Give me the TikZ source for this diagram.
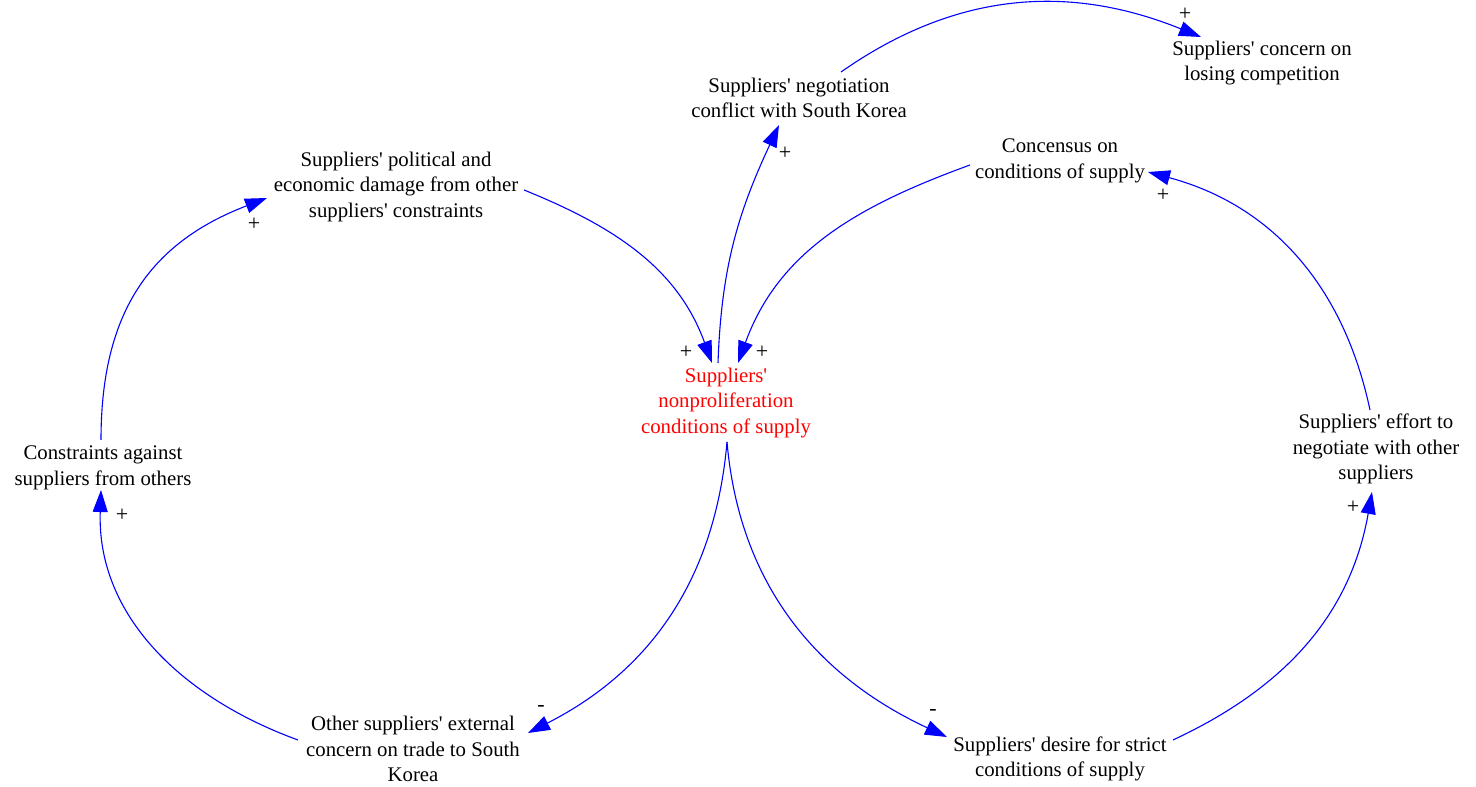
\documentclass[tikz,border=0pt]{standalone}
\usepackage{fontspec}
\setmainfont{Liberation Serif}
\usetikzlibrary{arrows.meta}
\newcommand{\q}{\textquotesingle}
\begin{document}
\begin{tikzpicture}[x=1pt,y=1pt,
  var/.style={align=center, font=\fontsize{20.8}{25.5}\selectfont, inner sep=0pt},
  link/.style={draw=blue, line width=1.1pt, -{Triangle[length=22pt,width=15pt]}},
  sign/.style={font=\fontsize{22}{22}\selectfont, inner sep=0pt}]
\useasboundingbox (0,0) rectangle (1476,787);

% variables
\node[var, text=red] (ctr) at (726,384) {Suppliers\q\\nonproliferation\\conditions of supply};
\node[var] (pol) at (396,600) {Suppliers\q{} political and\\economic damage from other\\suppliers\q{} constraints};
\node[var] (neg) at (799,689) {Suppliers\q{} negotiation\\conflict with South Korea};
\node[var] (con) at (1262,724) {Suppliers\q{} concern on\\losing competition};
\node[var] (cons) at (1060,626) {Concensus on\\conditions of supply};
\node[var] (eff) at (1376,338) {Suppliers\q{} effort to\\negotiate with other\\suppliers};
\node[var] (des) at (1060,28) {Suppliers\q{} desire for strict\\conditions of supply};
\node[var] (oth) at (413,38) {Other suppliers\q{} external\\concern on trade to South\\Korea};
\node[var] (cst) at (103,319) {Constraints against\\suppliers from others};

% causal links
\draw[link] ([shift={(128,-3)}]pol.center) to[out=-22,in=110] ([shift={(-14,40)}]ctr.center);
\draw[link] ([shift={(-8,40)}]ctr.center) to[out=88,in=-115] ([shift={(-20,-27)}]neg.center);
\draw[link] ([shift={(42,26)}]neg.center) to[out=35,in=158] ([shift={(-61,26)}]con.center);
\draw[link] ([shift={(-90,-4)}]cons.center) to[out=200,in=70] ([shift={(12,40)}]ctr.center);
\draw[link] ([shift={(-6,39)}]eff.center) to[out=102,in=-15] ([shift={(88,-11)}]cons.center);
\draw[link] ([shift={(113,19)}]des.center) to[out=25,in=-100] ([shift={(-4,-43)}]eff.center);
\draw[link] ([shift={(1,-39)}]ctr.center) to[out=-85,in=155] ([shift={(-113,22)}]des.center);
\draw[link] ([shift={(1,-39)}]ctr.center) to[out=-95,in=27] ([shift={(115,16)}]oth.center);
\draw[link] ([shift={(-115,9)}]oth.center) to[out=160,in=-92] ([shift={(-2,-22)}]cst.center);
\draw[link] ([shift={(-2,28)}]cst.center) to[out=90,in=201,looseness=1.1] ([shift={(-129,-11)}]pol.center);

% polarities
\node[sign] (p1) at (686,435) {+};
\node[sign] (p2) at (762,435) {+};
\node[sign] (p3) at (785,634) {+};
\node[sign] (p4) at (1185,773) {+};
\node[sign] (p5) at (1163,592) {+};
\node[sign] (p6) at (1353,280) {+};
\node[sign] (p7) at (933,75) {-};
\node[sign] (p8) at (541,78) {-};
\node[sign] (p9) at (122,272) {+};
\node[sign] (p10) at (254,563) {+};
\end{tikzpicture}
\end{document}
